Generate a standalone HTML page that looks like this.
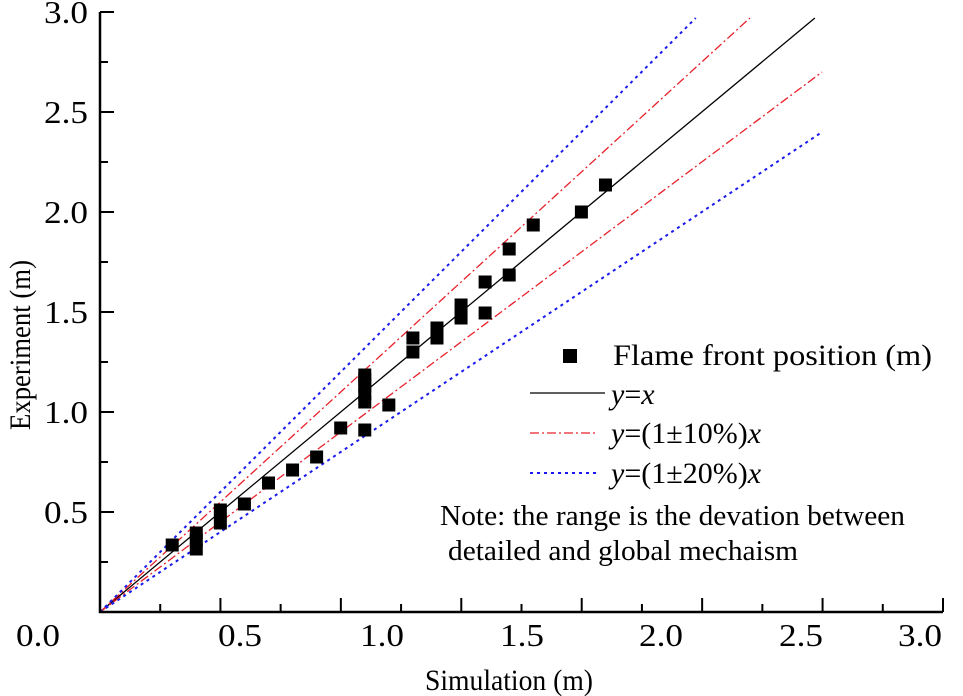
<!DOCTYPE html>
<html><head><meta charset="utf-8">
<style>
html,body{margin:0;padding:0;background:#fff;}
svg{display:block;font-family:"Liberation Serif",serif;}
</style></head>
<body>
<svg id="chart" width="963" height="696" viewBox="0 0 963 696">
<g id="plot"></g>
<text x="509" y="690" text-anchor="middle" font-size="30" textLength="168" lengthAdjust="spacingAndGlyphs">Simulation (m)</text>
<text transform="translate(30,345) rotate(-90)" text-anchor="middle" font-size="30" textLength="170" lengthAdjust="spacingAndGlyphs">Experiment (m)</text>
<g font-size="30">
<rect x="563" y="349" width="14" height="14" fill="#000"/>
<text x="613" y="365" textLength="319" lengthAdjust="spacingAndGlyphs">Flame front position (m)</text>
<line x1="530" y1="393" x2="605" y2="393" stroke="#000" stroke-width="1.3"/>
<text x="611" y="404"><tspan font-style="italic">y</tspan>=<tspan font-style="italic">x</tspan></text>
<line x1="530" y1="433" x2="598" y2="433" stroke="#e8202a" stroke-width="1.3" stroke-dasharray="9 3 2 3"/>
<text x="611" y="443"><tspan font-style="italic">y</tspan>=(1±10%)<tspan font-style="italic">x</tspan></text>
<line x1="530" y1="473" x2="600" y2="473" stroke="#1a1aee" stroke-width="2" stroke-dasharray="3 4"/>
<text x="611" y="483"><tspan font-style="italic">y</tspan>=(1±20%)<tspan font-style="italic">x</tspan></text>
</g>
<text x="440" y="525" font-size="29" textLength="465" lengthAdjust="spacingAndGlyphs">Note: the range is the devation between</text>
<text x="448" y="560" font-size="29" textLength="350" lengthAdjust="spacingAndGlyphs">detailed and global mechaism</text>
</svg>
<script>
const simValues = [0.30,0.40,0.40,0.40,0.50,0.50,0.60,0.70,0.80,0.90,1.00,1.10,1.10,1.10,1.10,1.10,1.10,1.20,1.30,1.30,1.40,1.40,1.50,1.50,1.60,1.60,1.70,1.70,1.80,2.00,2.10];
const expValues = [0.335,0.395,0.36,0.315,0.51,0.445,0.54,0.645,0.71,0.775,0.92,1.185,1.16,1.13,1.09,1.05,0.91,1.035,1.37,1.30,1.42,1.37,1.535,1.47,1.65,1.495,1.815,1.685,1.935,2.0,2.135];
const yTickLabels = ["0.5","1.0","1.5","2.0","2.5","3.0"];
const xTickLabels = ["0.0","0.5","1.0","1.5","2.0","2.5","3.0"];
const ratioLines = [1.0,1.1,0.9,1.2,0.8];

const NS="http://www.w3.org/2000/svg";
const g=document.getElementById('plot');
const X0=100, Y0=612, XS=240.7, YS=200;
const sx=v=>X0+v*XS, sy=v=>Y0-v*YS;
function mk(tag,attrs,parent){const e=document.createElementNS(NS,tag);for(const k in attrs)e.setAttribute(k,attrs[k]);(parent||g).appendChild(e);return e;}

const styles={1.0:{s:"#000",d:"",w:1.3,n:"line-y-equals-x"},1.1:{s:"#e8202a",d:"9 3 2 3",w:1.3,n:"line-plus-10"},0.9:{s:"#e8202a",d:"9 3 2 3",w:1.3,n:"line-minus-10"},1.2:{s:"#1a1aee",d:"3 4",w:2,n:"line-plus-20"},0.8:{s:"#1a1aee",d:"3 4",w:2,n:"line-minus-20"}};
ratioLines.forEach(r=>{
  const st=styles[r]||{s:"#000",d:"",w:1.3,n:"line"};
  let xe=Math.min(3,2.97/r);
  const l=mk('line',{x1:sx(0),y1:sy(0),x2:sx(xe),y2:sy(xe*r),stroke:st.s,'stroke-width':st.w,'stroke-dasharray':st.d});
  
  
});

simValues.forEach((v,i)=>{
  const r=mk('rect',{x:sx(v)-6.5,y:sy(expValues[i])-6.5,width:13,height:13,fill:"#000"});
  
  
});

const ax=mk('path',{d:`M${X0},12 V${Y0} H943`,stroke:"#000",'stroke-width':2.5,fill:"none"});


for(let k=1;k<=14;k++){const x=X0+k*(843/14);
  const t=mk('line',{x1:x,y1:Y0,x2:x,y2:Y0-(k%2===0?14:8),stroke:"#000",'stroke-width':2});
  
  }
for(let k=1;k<=12;k++){const y=sy(k*0.25);
  const t=mk('line',{x1:X0,y1:y,x2:X0+(k%2===0?14:8),y2:y,stroke:"#000",'stroke-width':2});
  
  }
yTickLabels.forEach((s,i)=>{
  const t=mk('text',{x:88,y:sy((i+1)*0.5)+11,'text-anchor':'end','font-size':32,textLength:44,lengthAdjust:'spacingAndGlyphs'});
  t.textContent=s;
  
  });
const xlabPos=[38,240,382,522,661,801,942];
xTickLabels.forEach((s,i)=>{
  const t=mk('text',{x:xlabPos[i],y:646,'text-anchor':i===6?'end':'middle','font-size':32,textLength:44,lengthAdjust:'spacingAndGlyphs'});
  t.textContent=s;
  
  });
</script>
</body></html>
